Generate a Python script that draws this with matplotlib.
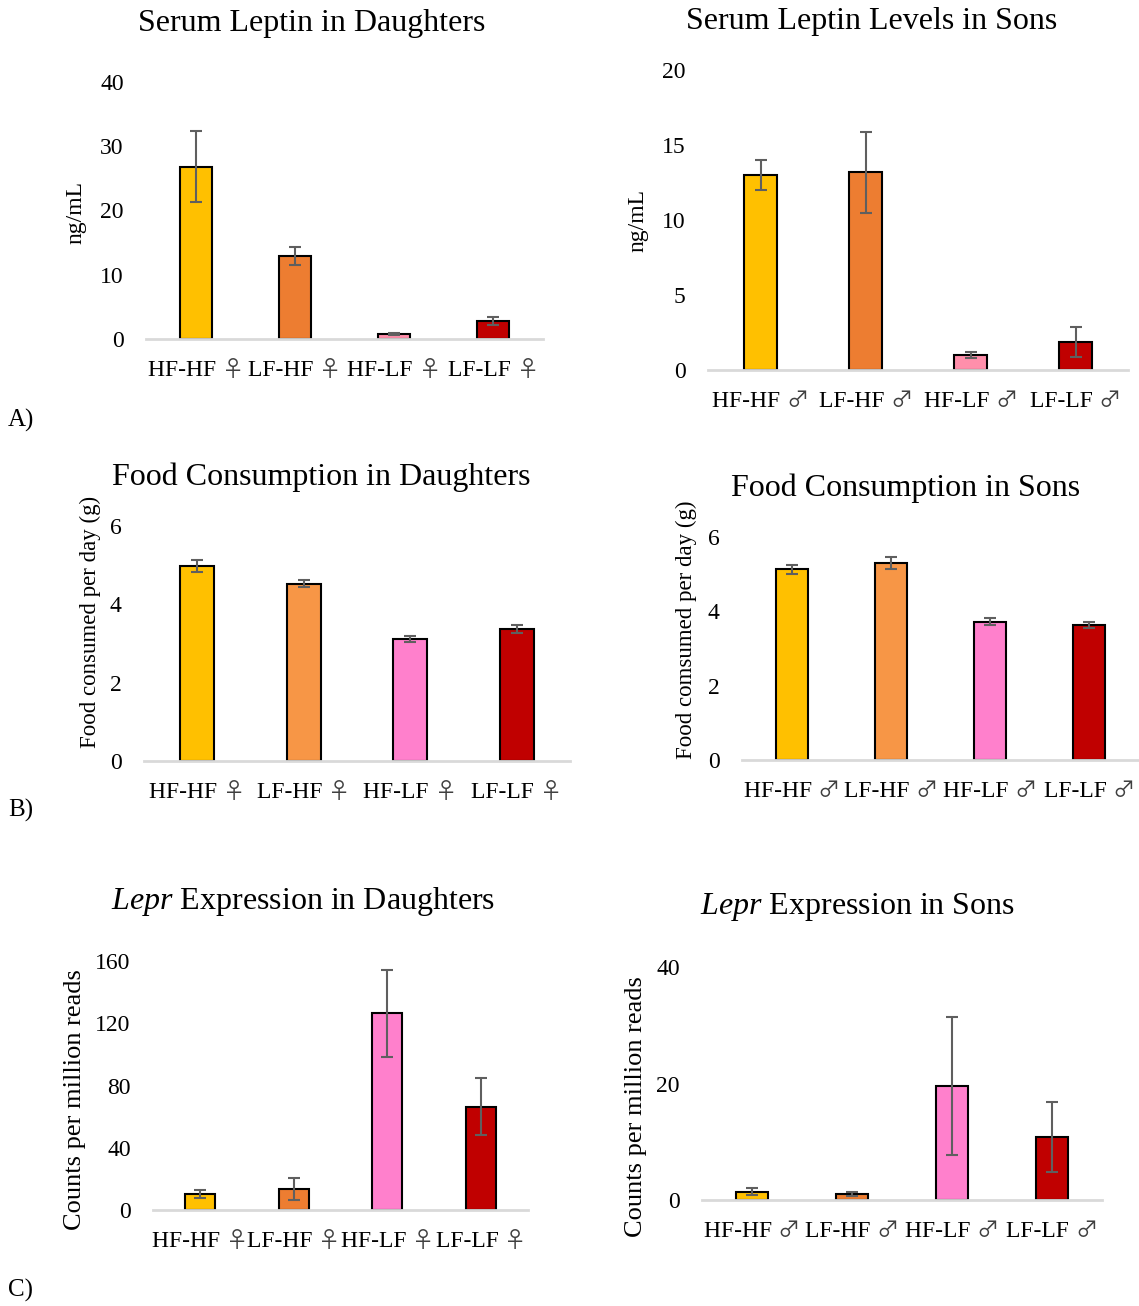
import numpy as np
import matplotlib
matplotlib.use("Agg")
import matplotlib.pyplot as plt
from matplotlib.offsetbox import TextArea, HPacker, AnnotationBbox

plt.rcParams['font.family'] = ['Liberation Serif', 'DejaVu Serif']
plt.rcParams['mathtext.fontset'] = 'custom'
plt.rcParams['mathtext.rm'] = 'Liberation Serif'
plt.rcParams['mathtext.it'] = 'Liberation Serif:italic'

# group labels
groups = ["HF-HF", "LF-HF", "HF-LF", "LF-LF"]
FEMALE = "\u2640"
MALE = "\u2642"

# serum leptin (ng/mL)
leptin_f = [26.8, 12.9, 0.8, 2.8]
leptin_f_err = [5.5, 1.35, 0.2, 0.6]
leptin_m = [13.0, 13.2, 1.0, 1.85]
leptin_m_err = [1.0, 2.7, 0.2, 1.0]

# food consumed per day (g)
food_f = [4.98, 4.53, 3.11, 3.37]
food_f_err = [0.15, 0.1, 0.07, 0.09]
food_m = [5.13, 5.29, 3.72, 3.62]
food_m_err = [0.13, 0.16, 0.09, 0.08]

# Lepr counts per million reads
lepr_f = [10.1, 13.5, 126.4, 66.4]
lepr_f_err = [2.7, 6.9, 27.9, 18.2]
lepr_m = [1.45, 1.05, 19.6, 10.75]
lepr_m_err = [0.6, 0.3, 11.9, 6.0]

col_a = ["#FFC000", "#ED7D31", "#FF8FAB", "#C00000"]
col_b = ["#FFC000", "#F79646", "#FF80CC", "#C00000"]
col_c = ["#FFC000", "#ED7D31", "#FF80CC", "#C00000"]

W, H = 1139, 1306
fig = plt.figure(figsize=(W / 100, H / 100), dpi=100)


def px_axes(x0, x1, ybase, ytop):
    # axes rectangle given in pixel coordinates (top-left origin)
    return fig.add_axes([x0 / W, 1 - ybase / H, (x1 - x0) / W, (ybase - ytop) / H])


def draw_panel(ax, vals, errs, colors, sym, ymax, yticks):
    x = np.arange(len(vals))
    ax.bar(x, vals, width=0.32, color=colors, edgecolor="black", linewidth=1.5, zorder=2)
    ax.errorbar(x, vals, yerr=errs, fmt="none", ecolor="#5F5F5F", elinewidth=1.5,
                capsize=4.5, capthick=1.5, zorder=3)
    ax.set_xlim(-0.5, len(vals) - 0.5)
    ax.set_ylim(0, ymax)
    ax.set_yticks(yticks)
    ax.set_xticks([])
    ax.tick_params(axis="y", length=0, pad=16, labelsize=17)
    for s in ["top", "right", "left"]:
        ax.spines[s].set_visible(False)
    ax.spines["bottom"].set_color("#D9D9D9")
    ax.spines["bottom"].set_linewidth(2)
    # category labels: group name in serif, sex symbol from the CJK font
    for xi, g in zip(x, groups):
        box = HPacker(children=[
            TextArea(g + " ", textprops=dict(family="Liberation Serif", size=17)),
            TextArea(sym, textprops=dict(family="Noto Sans CJK JP", size=16, color="#404040")),
        ], pad=0, sep=0, align="baseline")
        ab = AnnotationBbox(box, (xi, 0), xycoords=("data", "axes fraction"),
                            xybox=(0, -14), boxcoords="offset points",
                            box_alignment=(0.5, 1), frameon=False, pad=0)
        ax.add_artist(ab)


ax1 = px_axes(146, 543, 339, 82)
draw_panel(ax1, leptin_f, leptin_f_err, col_a, FEMALE, 40, [0, 10, 20, 30, 40])
ax2 = px_axes(708, 1128, 370, 70)
draw_panel(ax2, leptin_m, leptin_m_err, col_a, MALE, 20, [0, 5, 10, 15, 20])
ax3 = px_axes(144, 570, 761, 526)
draw_panel(ax3, food_f, food_f_err, col_b, FEMALE, 6, [0, 2, 4, 6])
ax4 = px_axes(742, 1139, 760, 537)
draw_panel(ax4, food_m, food_m_err, col_b, MALE, 6, [0, 2, 4, 6])
ax5 = px_axes(153, 528, 1210, 961)
draw_panel(ax5, lepr_f, lepr_f_err, col_c, FEMALE, 160, [0, 40, 80, 120, 160])
ax6 = px_axes(702, 1102, 1200, 967)
draw_panel(ax6, lepr_m, lepr_m_err, col_c, MALE, 40, [0, 20, 40])


def ftext(x, y, s, **kw):
    fig.text(x / W, 1 - y / H, s, ha="center", va="center", **kw)


# titles
ftext(312, 23, "Serum Leptin in Daughters", fontsize=23)
ftext(872, 22, "Serum Leptin Levels in Sons", fontsize=23)
ftext(321, 477, "Food Consumption in Daughters", fontsize=23)
ftext(906, 488, "Food Consumption in Sons", fontsize=23)
ftext(303, 901, r"$\it{Lepr}$ Expression in Daughters", fontsize=23)
ftext(857, 907, r"$\it{Lepr}$ Expression in Sons", fontsize=23)

# y labels
ftext(76, 212, "ng/mL", fontsize=17, rotation=90)
ftext(638, 220, "ng/mL", fontsize=17, rotation=90)
ftext(90, 622, "Food consumed per day (g)", fontsize=16.5, rotation=90)
ftext(686, 630, "Food comsumed per day (g)", fontsize=16.5, rotation=90)
ftext(75, 1100, "Counts per million reads", fontsize=19, rotation=90)
ftext(636, 1107, "Counts per million reads", fontsize=19, rotation=90)

# panel letters
for lab, yy in [("A)", 420), ("B)", 810), ("C)", 1290)]:
    fig.text(8 / W, 1 - yy / H, lab, ha="left", va="center", fontsize=18)

fig.savefig("out.png", dpi=100)
